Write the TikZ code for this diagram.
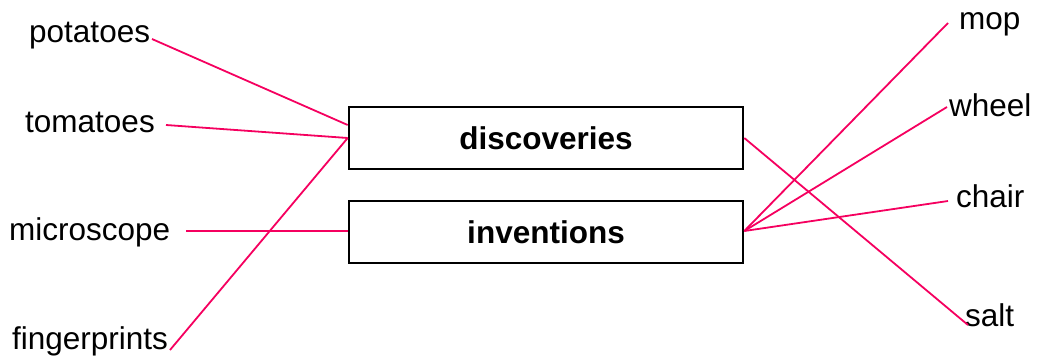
\documentclass[tikz,border=0pt]{standalone}
\usepackage{fontspec}
\setmainfont{Liberation Sans}
\usetikzlibrary{calc}
\definecolor{linkpink}{HTML}{F5005F}
\begin{document}
\begin{tikzpicture}[x=1pt,y=-1pt,
  word/.style={anchor=base west,inner sep=0pt,font=\fontsize{31.5}{36}\selectfont},
  catbox/.style={draw=black,line width=2.6pt,minimum width=394pt,minimum height=62pt,inner sep=0pt,font=\fontsize{31.5}{36}\selectfont\bfseries},
  link/.style={draw=linkpink,line width=1.8pt}]
\useasboundingbox (0,0) rectangle (1037,360);
% labels
\node[word] (potatoes) at (29,42.3) {potatoes};
\node[word] (tomatoes) at (25,132.7) {tomatoes};
\node[word] (microscope) at (9,240.7) {microscope};
\node[word] (fingerprints) at (12,349) {fingerprints};
\node[word] (mop) at (959,29.3) {mop};
\node[word] (wheel) at (949,116) {wheel};
\node[word] (chair) at (956,207.3) {chair};
\node[word] (salt) at (965,326.7) {salt};
% line ends beside the labels
\coordinate (potE) at (152,39);
\coordinate (tomE) at (166,125);
\coordinate (micE) at (186,231);
\coordinate (finE) at (170,350);
\coordinate (mopW) at (948,23);
\coordinate (wheW) at (947,107);
\coordinate (chaW) at (948,201);
\coordinate (salW) at (968,325);
% boxes
\node[catbox] (disc) at (546,138) {discoveries};
\node[catbox] (inv) at (546,232) {inventions};
% connectors
\draw[link] (potE) -- ($(disc.west)+(0,-13)$);
\draw[link] (tomE) -- (disc.west);
\draw[link] (finE) -- (disc.west);
\draw[link] (micE) -- ($(inv.west)+(0,-1)$);
\draw[link] (disc.east) -- (salW);
\draw[link] ($(inv.east)+(0,-1)$) -- (mopW);
\draw[link] ($(inv.east)+(0,-1)$) -- (wheW);
\draw[link] ($(inv.east)+(0,-1)$) -- (chaW);
\end{tikzpicture}
\end{document}
